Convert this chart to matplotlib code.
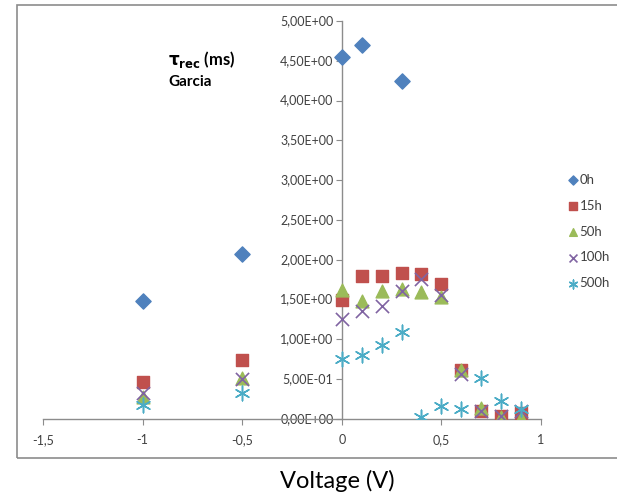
import matplotlib
matplotlib.use("Agg")
import matplotlib.pyplot as plt
from matplotlib.patches import Rectangle

font = ["Lato", "DejaVu Sans"]
plt.rcParams['font.family'] = font

series_names = ["0h", "15h", "50h", "100h", "500h"]
x_0h = [-1, -0.5, 0, 0.1, 0.3]
y_0h = [1.48, 2.07, 4.55, 4.70, 4.25]
x_all = [-1, -0.5, 0, 0.1, 0.2, 0.3, 0.4, 0.5, 0.6, 0.7, 0.8, 0.9]
y_15h = [0.46, 0.74, 1.49, 1.80, 1.80, 1.84, 1.82, 1.69, 0.61, 0.10, 0.04, 0.08]
y_50h = [0.28, 0.51, 1.62, 1.48, 1.61, 1.63, 1.60, 1.53, 0.61, 0.14, 0.03, 0.01]
y_100h = [0.33, 0.50, 1.26, 1.36, 1.42, 1.61, 1.76, 1.56, 0.56, 0.10, 0.04, 0.10]
y_500h = [0.17, 0.33, 0.76, 0.81, 0.93, 1.09, 0.02, 0.16, 0.12, 0.51, 0.22, 0.13]

x_ticks = [-1.5, -1, -0.5, 0, 0.5, 1]
x_tick_labels = ["-1,5", "-1", "-0,5", "0", "0,5", "1"]
y_ticks = [0, 0.5, 1, 1.5, 2, 2.5, 3, 3.5, 4, 4.5, 5]

colors = ["#4F81BD", "#C0504D", "#9BBB59", "#8064A2", "#4BACC6"]

fig = plt.figure(figsize=(6.17, 4.95), dpi=100)
# chart border
fig.patches.append(Rectangle((17/617, 1-458/495), 0.99, (458-5)/495, transform=fig.transFigure,
                             fill=False, edgecolor="#8c8c8c", linewidth=1.2))
ax = fig.add_axes([43/617, 1-419/495, (541-43)/617, (419-21)/495])

ax.scatter(x_0h, y_0h, marker="D", s=60, color=colors[0], label=series_names[0], zorder=3)
ax.scatter(x_all, y_15h, marker="s", s=85, color=colors[1], label=series_names[1], zorder=3)
ax.scatter(x_all, y_50h, marker="^", s=85, color=colors[2], label=series_names[2], zorder=3)
ax.scatter(x_all, y_100h, marker="x", s=90, color=colors[3], linewidths=1.2, label=series_names[3], zorder=3)
ax.scatter(x_all, y_500h, marker=(6, 2, 0), s=110, color=colors[4], linewidths=1.1, label=series_names[4], zorder=3)

ax.set_xlim(-1.5, 1)
ax.set_ylim(0, 5)
for s in ["top", "right"]:
    ax.spines[s].set_visible(False)
ax.spines["left"].set_position(("data", 0))
ax.spines["bottom"].set_position(("data", 0))
for s in ["left", "bottom"]:
    ax.spines[s].set_color("#8c8c8c")
    ax.spines[s].set_linewidth(1.0)

ax.set_xticks(x_ticks)
ax.set_xticklabels(x_tick_labels)
ax.set_yticks(y_ticks)
ax.set_yticklabels([f"{v:.2E}".replace(".", ",") for v in y_ticks])
ax.tick_params(axis="both", colors="#8c8c8c", labelcolor="#404040", labelsize=9, length=4, direction="out")
ax.tick_params(axis="x", pad=7)
ax.tick_params(axis="y", pad=2)
for lbl in ax.get_yticklabels():
    lbl.set_verticalalignment("center")

fig.text(337/617, 1-481/495, "Voltage (V)", ha="center", va="center", fontsize=17, color="#000000")
fig.text(168/617, 1-60/495, r"$\mathbf{\tau_{rec}}$ (ms)", ha="left", va="center", fontsize=12,
         fontweight="bold")
fig.text(168/617, 1-82/495, "Garcia", ha="left", va="center", fontsize=11, fontweight="bold")

leg = ax.legend(loc="upper left", bbox_to_anchor=(553/617, 1-162/495), bbox_transform=fig.transFigure,
                frameon=False, fontsize=9.5, handletextpad=-0.1, labelspacing=1.05, markerscale=0.6,
                handlelength=1.2)
for t in leg.get_texts():
    t.set_color("#404040")

fig.savefig("out.png", dpi=100)
